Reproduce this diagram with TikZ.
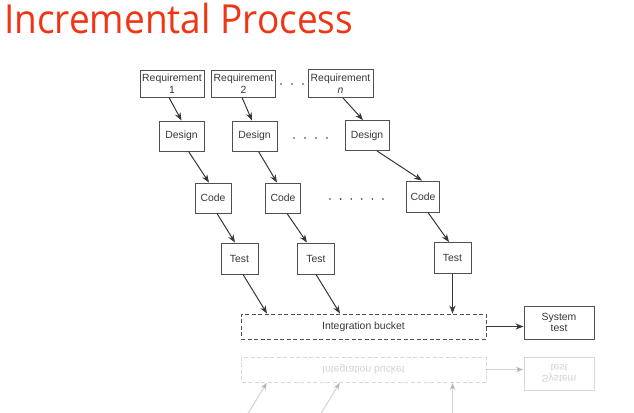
\documentclass[tikz,border=0pt]{standalone}
\usepackage{fontspec}
\setmainfont{Liberation Sans}
\newfontfamily\titlefont{Open Sans}
\usetikzlibrary{arrows.meta}

\definecolor{titlered}{RGB}{240,52,20}
\definecolor{ink}{RGB}{55,55,55}
\definecolor{boxline}{RGB}{80,80,80}

\tikzset{
  box/.style={draw=boxline, line width=0.9pt, fill=white, inner sep=0pt,
    text=ink, align=center, font=\fontsize{10.4}{11.8}\selectfont},
  bucketbox/.style={box, dash pattern=on 4pt off 2.5pt},
  arr/.style={draw=ink, line width=1pt, -{Stealth[length=8pt,width=6pt]}},
  dot/.style={fill=ink, draw=none},
}

% Test boxes (label #2), integration bucket and system test, with their arrows
\newcommand\lowerpart[2]{%
  \node[box, minimum width=37pt, minimum height=31pt] (#1t1) at (239.5,258.5) {#2};
  \node[box, minimum width=37pt, minimum height=31pt] (#1t2) at (316,258.5) {#2};
  \node[box, minimum width=37pt, minimum height=31pt] (#1tn) at (452.5,258) {#2};
  \node[bucketbox, minimum width=245pt, minimum height=25pt] (#1bucket) at (363.5,326.5) {Integration bucket};
  \node[box, minimum width=70pt, minimum height=33pt] (#1sys) at (559,322.5) {System\\test};
  \draw[arr] ([xshift=3.5pt]#1t1.south) -- ([xshift=-96.5pt]#1bucket.north);
  \draw[arr] (#1t2.south) -- ([xshift=-23.5pt]#1bucket.north);
  \draw[arr] (#1tn.south) -- (#1tn.south |- #1bucket.north);
  \draw[arr] (#1bucket.east) -- (#1bucket.east -| #1sys.west);
}

\begin{document}
\begin{tikzpicture}[x=1pt, y=-1pt]
  \clip (0,0) rectangle (634,412);
  \fill[white] (0,0) rectangle (634,412);

  % title
  \node[anchor=base west, inner sep=0pt, text=titlered,
        font=\titlefont\fontsize{40}{40}\selectfont] (title) at (4,34)
        {\scalebox{0.925}[1]{Incremental Process}};

  % requirements
  \node[box, minimum width=64pt, minimum height=27pt] (r1) at (172,83.5) {Requirement\\1};
  \node[box, minimum width=64pt, minimum height=27pt] (r2) at (243.5,83.5) {Requirement\\2};
  \node[box, minimum width=65pt, minimum height=28pt] (rn) at (340.5,83.5) {Requirement\\\textit{n}};

  % design
  \node[box, minimum width=45pt, minimum height=30pt] (d1) at (181.5,136) {Design};
  \node[box, minimum width=45pt, minimum height=30pt] (d2) at (254.5,136) {Design};
  \node[box, minimum width=44pt, minimum height=30pt] (dn) at (367,135.5) {Design};

  % code
  \node[box, minimum width=36pt, minimum height=30pt] (c1) at (213,198) {Code};
  \node[box, minimum width=35pt, minimum height=30pt] (c2) at (283,198) {Code};
  \node[box, minimum width=33pt, minimum height=31pt] (cn) at (423,196.5) {Code};

  \lowerpart{}{Test}

  % connectors between the upper stages
  \draw[arr] ([xshift=-3pt]r1.south) -- (d1.north);
  \draw[arr] ([xshift=-1.5pt]r2.south) -- ([xshift=-2.5pt]d2.north);
  \draw[arr] ([xshift=2.5pt]rn.south) -- ([xshift=-4pt]dn.north);
  \draw[arr] ([xshift=7pt]d1.south) -- ([xshift=-4pt]c1.north);
  \draw[arr] ([xshift=4pt]d2.south) -- ([xshift=-6pt]c2.north);
  \draw[arr] ([xshift=10pt]dn.south) -- ([xshift=-1pt]cn.north);
  \draw[arr] ([xshift=4pt]c1.south) -- ([xshift=-4.5pt]t1.north);
  \draw[arr] ([xshift=4pt]c2.south) -- ([xshift=-9pt]t2.north);
  \draw[arr] ([xshift=5pt]cn.south) -- ([xshift=-3.5pt]tn.north);

  % ellipsis dots
  \foreach \x in {281,292,303} \fill[dot] (\x,84) circle (0.9);
  \foreach \x in {294,305,316,327} \fill[dot] (\x,138) circle (0.9);
  \foreach \x in {330,340.6,351.2,361.8,372.4,383} \fill[dot] (\x,199) circle (0.9);

  % mirrored reflection under the bucket
  \begin{scope}[shift={(0,696)}, yscale=-1, opacity=0.22, transform shape]
    \lowerpart{m}{}
  \end{scope}
\end{tikzpicture}
\end{document}
